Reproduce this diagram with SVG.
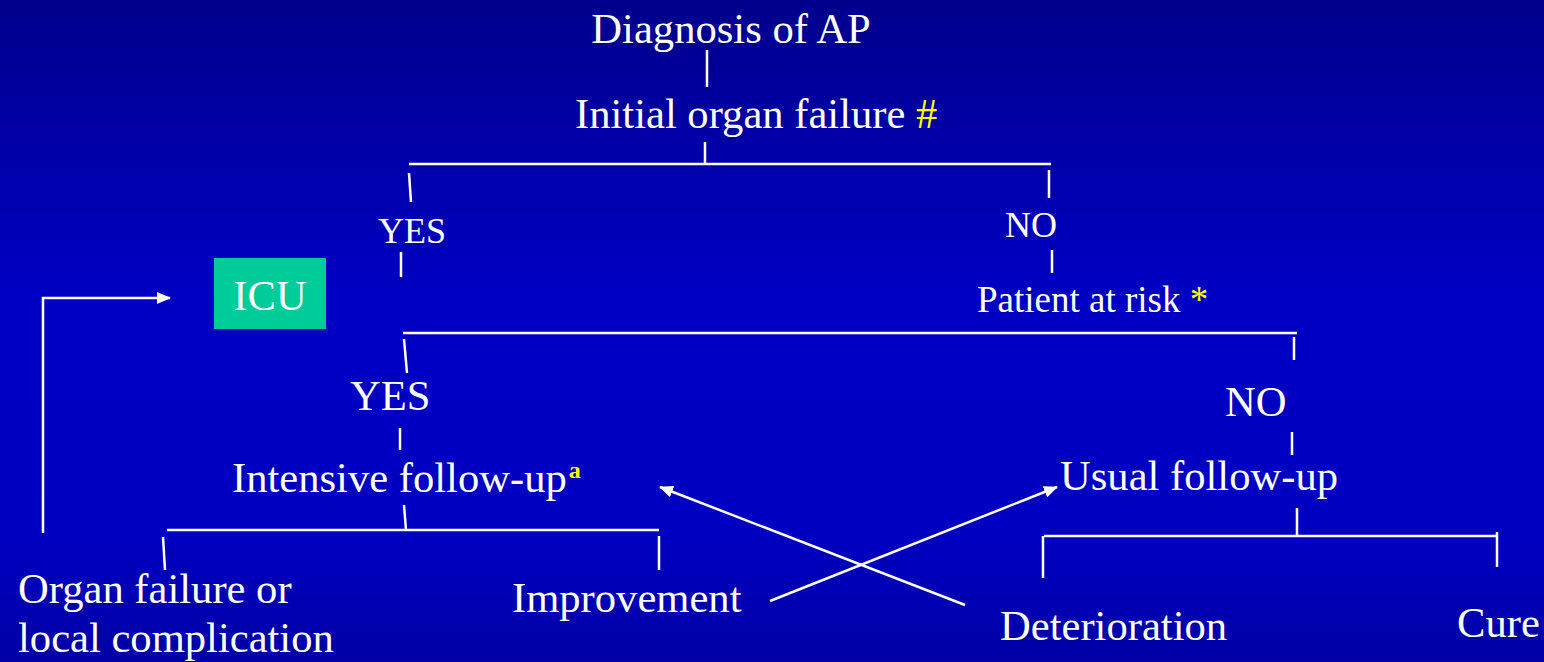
<svg xmlns="http://www.w3.org/2000/svg" width="1544" height="662" viewBox="0 0 1544 662">
<defs>
<linearGradient id="bg" x1="0" y1="0" x2="0" y2="1">
<stop offset="0" stop-color="#00008c"/>
<stop offset="0.45" stop-color="#0000c4"/>
<stop offset="0.8" stop-color="#0000c2"/>
<stop offset="1" stop-color="#0000a6"/>
</linearGradient>
<marker id="ah" markerWidth="14" markerHeight="12" refX="13" refY="6" orient="auto" markerUnits="userSpaceOnUse">
<path d="M0,0 L14,6 L0,12 Z" fill="#ffffff"/>
</marker>
<style>
text{font-family:"Liberation Serif","Times New Roman",serif;fill:#ffffff;}
.t42{font-size:42.6px;}
.t36{font-size:36px;}
.y{fill:#ffff00;}
.ln{stroke:#ffffff;stroke-width:2.5;fill:none;}
.ar{stroke:#ffffff;stroke-width:2.5;fill:none;marker-end:url(#ah);}
</style>
</defs>
<rect x="0" y="0" width="1544" height="662" fill="url(#bg)"/>
<g id="connectors">
<line class="ln" x1="707" y1="50" x2="707" y2="87"/>
<line class="ln" x1="705" y1="142" x2="705" y2="164"/>
<line class="ln" x1="409" y1="164" x2="1051" y2="164"/>
<line class="ln" x1="409" y1="173" x2="411" y2="202"/>
<line class="ln" x1="1049" y1="170" x2="1049" y2="198"/>
<line class="ln" x1="401" y1="252" x2="401" y2="277"/>
<line class="ln" x1="1052" y1="250" x2="1052" y2="273"/>
<line class="ln" x1="403" y1="333" x2="1297" y2="333"/>
<line class="ln" x1="404" y1="339" x2="407" y2="373"/>
<line class="ln" x1="1294" y1="337" x2="1294" y2="360"/>
<line class="ln" x1="400" y1="428" x2="400" y2="450"/>
<line class="ln" x1="1292" y1="432" x2="1292" y2="455"/>
<line class="ln" x1="404" y1="505" x2="406" y2="530"/>
<line class="ln" x1="167" y1="530" x2="659" y2="530"/>
<line class="ln" x1="163" y1="537" x2="165" y2="570"/>
<line class="ln" x1="659" y1="536" x2="659" y2="570"/>
<line class="ln" x1="1297" y1="508" x2="1297" y2="536"/>
<line class="ln" x1="1044" y1="536" x2="1497" y2="536"/>
<line class="ln" x1="1043" y1="536" x2="1043" y2="578"/>
<line class="ln" x1="1497" y1="532" x2="1497" y2="567"/>
<polyline class="ar" points="43,533 43,298 170,298"/>
<line class="ar" x1="770" y1="601" x2="1057" y2="487"/>
<line class="ar" x1="965" y1="605" x2="660" y2="487"/>
</g>
<g id="diagnosis"><text class="t42" x="731" y="43" text-anchor="middle">Diagnosis of AP</text></g>
<g id="initial-organ-failure"><text class="t42" x="575" y="128">Initial organ failure <tspan class="y">#</tspan></text></g>
<g id="yes1"><text class="t36" x="378" y="243">YES</text></g>
<g id="no1"><text class="t36" x="1005" y="237">NO</text></g>
<g id="icu">
<rect x="214" y="258" width="112" height="71" fill="#00cc99"/>
<text class="t42" x="270" y="310" text-anchor="middle">ICU</text>
</g>
<g id="patient-at-risk"><text x="977" y="312" style="font-size:37px">Patient at risk <tspan class="y">*</tspan></text></g>
<g id="yes2"><text class="t42" x="350" y="410">YES</text></g>
<g id="no2"><text class="t42" x="1225" y="416">NO</text></g>
<g id="intensive"><text class="t42" x="232" y="492">Intensive follow-up<tspan class="y" style="font-size:24px;font-weight:bold" dx="2" dy="-14">a</tspan></text></g>
<g id="usual"><text class="t42" x="1060" y="490">Usual follow-up</text></g>
<g id="organ-failure"><text class="t42" x="18" y="603">Organ failure or</text><text class="t42" x="18" y="652">local complication</text></g>
<g id="improvement"><text class="t42" x="512" y="612">Improvement</text></g>
<g id="deterioration"><text class="t42" x="1000" y="640">Deterioration</text></g>
<g id="cure"><text class="t42" x="1457" y="637">Cure</text></g>
</svg>
